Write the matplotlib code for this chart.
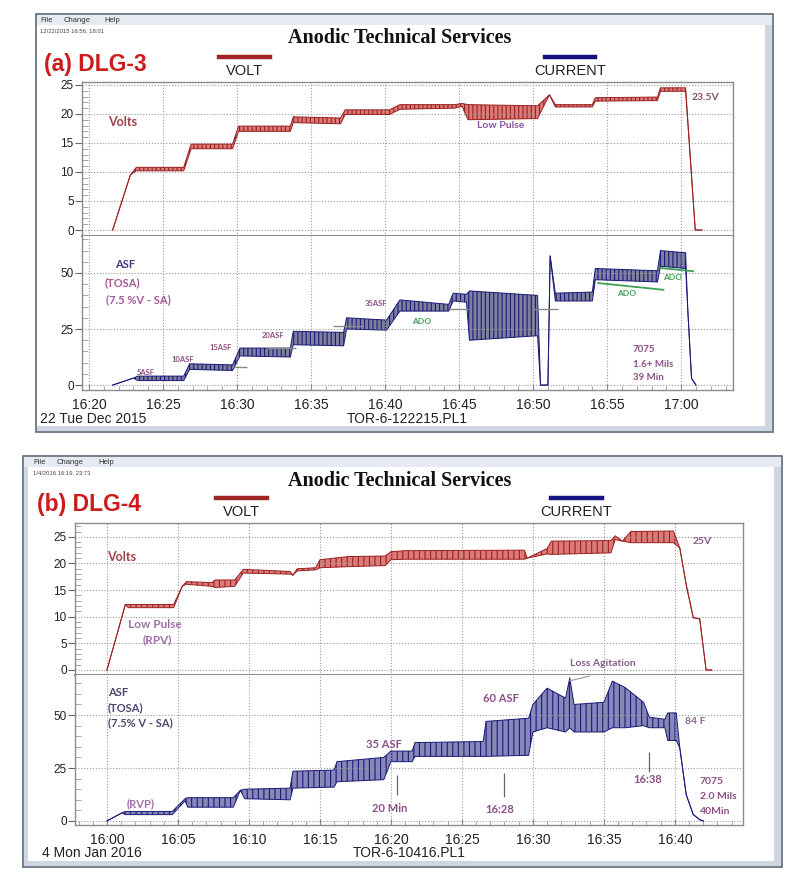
import matplotlib
matplotlib.use("Agg")
import matplotlib.pyplot as plt
from matplotlib.patches import Rectangle
from matplotlib.lines import Line2D
from matplotlib.ticker import MultipleLocator, FuncFormatter

plt.rcParams['font.family'] = ['Liberation Sans', 'DejaVu Sans']
plt.rcParams['hatch.linewidth'] = 0.8

W, H = 800, 872

# ---------------- (a) DLG-3 : minutos despues de las 16:00 ----------------
a_volt_t  = [21.6, 22.8, 23.2, 26.4, 26.9, 29.7, 30.1, 33.6, 33.8, 37.0, 37.3, 40.3, 41.0,
             44.7, 45.2, 45.6, 50.3, 51.1, 51.5, 54.0, 54.2, 58.4, 58.6, 60.3, 60.95, 61.4]
a_volt_lo = [0.0, 9.5, 10.2, 10.2, 14.0, 14.0, 17.0, 17.0, 18.5, 18.3, 19.9, 19.9, 20.8,
             21.0, 21.3, 19.0, 19.2, 23.3, 21.2, 21.2, 22.2, 22.3, 23.9, 23.9, 0.0, 0.0]
a_volt_hi = [0.0, 9.5, 10.8, 10.8, 14.8, 14.8, 17.9, 17.9, 19.5, 19.3, 20.7, 20.7, 21.6,
             21.6, 21.8, 21.6, 21.4, 23.3, 21.6, 21.6, 22.8, 22.9, 24.5, 24.5, 0.0, 0.0]

a_asf_t  = [21.6, 23.0, 23.3, 26.4, 26.8, 29.7, 30.2, 33.6, 33.8, 37.2, 37.4, 40.1, 41.0, 44.3,
            44.6, 45.5, 45.7, 50.3, 50.5, 51.0, 51.15, 51.5, 54.0, 54.2, 58.4, 58.6, 60.3,
            60.45, 60.7, 61.0]
a_asf_lo = [0.0, 3.1, 2.0, 2.0, 7.0, 6.5, 13.0, 12.5, 18.0, 17.5, 25.0, 24.5, 33.0, 33.0,
            37.5, 37.0, 20.0, 22.0, 0.0, 0.0, 57.6, 37.5, 37.5, 47.0, 46.0, 53.0, 52.0,
            33.0, 3.0, 0.0]
a_asf_hi = [0.0, 3.1, 4.0, 4.0, 9.5, 9.0, 16.5, 16.5, 24.0, 23.5, 30.0, 29.0, 38.0, 36.0,
            41.0, 40.5, 42.0, 40.0, 0.0, 0.0, 57.6, 41.0, 41.5, 52.0, 51.0, 60.0, 59.0,
            33.0, 3.0, 0.0]

# lineas de consigna grises
a_ref_t0 = [29.7, 32.0, 36.5, 44.3, 50.0]
a_ref_t1 = [30.7, 34.0, 38.5, 45.6, 51.7]
a_ref_y  = [8.2, 16.4, 26.5, 34.0, 34.0]

# lineas verdes ADO
a_ado_t = [[54.4, 58.8], [58.6, 60.8]]
a_ado_y = [[45.5, 42.5], [52.2, 50.8]]

# ---------------- (b) DLG-4 ----------------
b_volt_t  = [0.0, 1.3, 1.5, 4.7, 5.3, 5.6, 7.4, 7.6, 9.0, 9.6, 12.9, 13.1, 13.4, 14.7, 15.0,
             17.0, 19.6, 20.0, 21.0, 29.4, 29.6, 31.0, 31.3, 35.5, 35.8, 36.3, 36.9, 39.9,
             40.35, 40.8, 41.3, 41.75, 42.2, 42.6]
b_volt_lo = [0.0, 12.3, 11.7, 11.7, 15.7, 16.1, 15.7, 15.5, 15.7, 18.2, 18.0, 17.8, 18.6,
             18.8, 19.2, 19.4, 19.6, 20.7, 20.8, 20.8, 21.0, 21.8, 21.7, 22.0, 24.5, 24.2,
             23.9, 23.9, 22.9, 16.0, 9.8, 9.6, 0.0, 0.0]
b_volt_hi = [0.0, 12.3, 12.3, 12.3, 15.7, 16.6, 16.4, 16.9, 16.9, 18.9, 18.5, 17.8, 19.0,
             19.2, 20.7, 21.3, 21.4, 22.2, 22.4, 22.5, 21.0, 22.8, 24.2, 24.3, 25.2, 24.2,
             26.0, 26.1, 22.9, 16.0, 9.8, 9.6, 0.0, 0.0]

b_asf_t  = [0.0, 1.05, 1.3, 4.6, 5.5, 5.7, 8.9, 9.4, 9.7, 12.9, 13.1, 16.0, 16.2, 19.5, 20.0,
            21.5, 21.7, 26.5, 26.7, 29.7, 30.0, 31.0, 32.3, 32.6, 32.9, 35.0, 35.6, 36.5,
            37.8, 38.2, 39.3, 39.5, 40.1, 40.35, 40.8, 41.3, 41.75, 42.0]
b_asf_lo = [0.0, 3.8, 3.0, 3.0, 9.5, 6.5, 6.5, 14.5, 10.5, 10.0, 15.5, 16.0, 18.5, 19.5,
            28.0, 28.0, 30.5, 30.5, 30.5, 31.0, 42.0, 44.0, 42.0, 44.0, 42.0, 42.0, 44.0,
            44.0, 45.0, 44.0, 44.0, 38.0, 38.0, 34.4, 12.4, 3.0, 0.6, 0.0]
b_asf_hi = [0.0, 3.8, 4.5, 4.5, 10.5, 11.0, 11.0, 14.5, 15.0, 15.5, 23.5, 24.0, 28.0, 30.0,
            33.0, 33.0, 37.0, 37.5, 47.0, 48.5, 55.0, 62.7, 58.0, 67.5, 55.0, 56.0, 66.0,
            63.0, 56.0, 49.0, 48.0, 51.0, 51.0, 34.4, 12.4, 3.0, 0.6, 0.0]

# marcas verticales (tiempo, ASF inicio, ASF fin)
b_marca_t  = [20.4, 27.96, 38.2]
b_marca_y0 = [21.8, 22.6, 32.7]
b_marca_y1 = [12.4, 11.5, 23.3]
b_agit_t = [32.5, 34.0]
b_agit_y = [66.0, 68.4]

ROJO_L, ROJO_F = '#9a2020', '#dc7a78'
AZUL_L, AZUL_F = '#1a1a78', '#8686b8'
MORADO = '#8a4f86'
VERDE = '#3ea055'

fig = plt.figure(figsize=(W / 100, H / 100), dpi=100)


def px(x, y):
    return x / W, 1 - y / H


def txt(x, y, s, **kw):
    kw.setdefault('va', 'center')
    fig.text(x / W, 1 - y / H, s, **kw)


def caja(x0, y0, x1, y1, cara, borde='none', lw=0, z=-2):
    fig.add_artist(Rectangle(px(x0, y1), (x1 - x0) / W, (y1 - y0) / H, facecolor=cara,
                             edgecolor=borde, lw=lw, zorder=z, transform=fig.transFigure))


def hora(m, pos=None):
    m = int(round(m))
    return "%d:%02d" % (16 + m // 60, m % 60)


def ventana(x0, y0, x1, y1, izq):
    caja(x0, y0, x1, y1, 'white', '#5d6878', 1.2, -3)
    caja(x0 + 1, y0 + 1, x1 - 1, y0 + 11, '#e6eaf1', z=-2)
    caja(x1 - 8, y0 + 11, x1 - 1, y1 - 1, '#cdd6e2', z=-2)
    caja(x0 + 1, y1 - 6, x1 - 1, y1 - 1, '#cdd6e2', z=-2)
    if izq:
        caja(x0 + 1, y0 + 11, x0 + 5, y1 - 1, '#cdd6e2', z=-2)


def ejes(izq, der, arriba, medio, abajo, xlim, vlim, alim, xt0, xt1):
    axv = fig.add_axes([izq / W, 1 - medio / H, (der - izq) / W, (medio - arriba) / H])
    axa = fig.add_axes([izq / W, 1 - abajo / H, (der - izq) / W, (abajo - medio) / H])
    for ax in (axv, axa):
        ax.set_xlim(*xlim)
        ax.xaxis.set_major_locator(MultipleLocator(5))
        ax.xaxis.set_minor_locator(MultipleLocator(1))
        ax.grid(True, which='major', color='#9a9a9a', ls=(0, (1, 1.6)), lw=0.8)
        for s in ax.spines.values():
            s.set_color('#8c8c8c')
            s.set_linewidth(1.0)
        ax.tick_params(axis='y', which='major', direction='out', length=5, width=0.8,
                       color='#666666', labelsize=8.5, pad=1, labelcolor='#222222')
        ax.tick_params(axis='y', which='minor', direction='in', length=4, width=0.6,
                       color='#999999')
    axv.set_ylim(*vlim)
    axv.yaxis.set_major_locator(MultipleLocator(5))
    axv.yaxis.set_minor_locator(MultipleLocator(1))
    axv.tick_params(axis='x', which='both', length=0, labelbottom=False)
    axv.spines['bottom'].set_linewidth(1.5)
    axa.set_ylim(*alim)
    axa.set_yticks([0, 25, 50])
    axa.yaxis.set_minor_locator(MultipleLocator(5))
    axa.spines['top'].set_visible(False)
    axa.set_xticks(list(range(xt0, xt1 + 1, 5)))
    axa.xaxis.set_major_formatter(FuncFormatter(hora))
    axa.tick_params(axis='x', which='major', direction='in', length=4, color='#888888',
                    labelsize=10, pad=6, labelcolor='#222222')
    axa.tick_params(axis='x', which='minor', direction='in', length=3, color='#999999')
    return axv, axa


def banda(ax, t, lo, hi, linea, relleno, rayas):
    ax.fill_between(t, lo, hi, facecolor=relleno, edgecolor=linea, hatch=rayas, lw=0)
    ax.plot(t, lo, color=linea, lw=0.7)
    ax.plot(t, hi, color=linea, lw=0.7)


def cabecera(y0, fecha, etiqueta, xm, xv, xc, ypan, ylin, yvt, yt):
    txt(xm[0], y0 + 6, 'File', fontsize=5.5, color='#333333')
    txt(xm[1], y0 + 6, 'Change', fontsize=5.5, color='#333333')
    txt(xm[2], y0 + 6, 'Help', fontsize=5.5, color='#333333')
    txt(xm[0], y0 + 17, fecha, fontsize=4.2, color='#444444')
    txt(400, yt, 'Anodic Technical Services', fontsize=14.5, fontweight='bold',
        family=['Liberation Serif', 'DejaVu Serif'], ha='center', color='#111111')
    txt(ypan[0], ypan[1], etiqueta, fontsize=16.5, fontweight='bold', color='#cc1b1b')
    fig.add_artist(Line2D([xv[0] / W, xv[1] / W], [1 - ylin / H] * 2, color='#a02525', lw=3.2))
    fig.add_artist(Line2D([xc[0] / W, xc[1] / W], [1 - ylin / H] * 2, color='#141480', lw=3.2))
    txt((xv[0] + xv[1]) / 2, yvt, 'VOLT', fontsize=10.5, ha='center', color='#222222')
    txt((xc[0] + xc[1]) / 2, yvt, 'CURRENT', fontsize=10.5, ha='center', color='#222222')


CAL = ['Lato', 'DejaVu Sans']

# ======================= panel (a) =======================
ventana(36, 14, 773, 432, False)
cabecera(14, '12/22/2015 16:56, 18:01', '(a) DLG-3', [40, 64, 104], [219, 270], [545, 595],
         (44, 64), 57, 71, 38)
av, aa = ejes(82, 733, 82, 236, 390, (19.53, 63.5), (-1.03, 25.5), (-2.2, 66.5), 20, 60)
banda(av, a_volt_t, a_volt_lo, a_volt_hi, ROJO_L, ROJO_F, '||||')
banda(aa, a_asf_t, a_asf_lo, a_asf_hi, AZUL_L, '#7e7e9e', '||||')
aa.hlines(a_ref_y, a_ref_t0, a_ref_t1, color='#8a8a8a', lw=1.0)
for tt, yy in zip(a_ado_t, a_ado_y):
    aa.plot(tt, yy, color=VERDE, lw=1.3)

txt(108, 122, 'Volts', fontsize=9, fontweight='bold', color='#a2424c', family=CAL)
txt(477, 125, 'Low Pulse', fontsize=7.5, fontweight='bold', color='#8a55a0', family=CAL)
txt(692, 97, '23.5V', fontsize=7.5, fontweight='bold', color='#8a4f6a', family=CAL)
txt(115, 264, 'ASF', fontsize=8, fontweight='bold', color='#3c3c80', family=CAL)
txt(105, 283, '(TOSA)', fontsize=8, fontweight='bold', color='#a05a9a', family=CAL)
txt(106, 300, '(7.5 %V - SA)', fontsize=8, fontweight='bold', color='#a05a9a', family=CAL)
for xx, yy, s in [(137, 372, '5ASF'), (172, 360, '10ASF'), (210, 348, '15ASF'),
                  (262, 335, '20ASF'), (365, 303, '35ASF')]:
    txt(xx, yy, s, fontsize=5.5, fontweight='bold', color=MORADO, family=CAL)
for xx, yy in [(412, 321), (617, 293), (663, 277)]:
    txt(xx, yy, 'ADO', fontsize=6, fontweight='bold', color=VERDE, family=CAL)
txt(633, 350, '7075', fontsize=7, fontweight='bold', color=MORADO, family=CAL)
txt(633, 364, '1.6+ Mils', fontsize=7, fontweight='bold', color=MORADO, family=CAL)
txt(633, 377, '39 Min', fontsize=7, fontweight='bold', color=MORADO, family=CAL)
txt(40, 419, '22 Tue Dec 2015', fontsize=10, color='#222222')
txt(407, 419, 'TOR-6-122215.PL1', fontsize=10, ha='center', color='#222222')

# ======================= panel (b) =======================
ventana(23, 456, 782, 867, True)
cabecera(456, '1/4/2016 16:19, 23:73', '(b) DLG-4', [33, 57, 98], [216, 267], [551, 602],
         (37, 504), 498, 512, 481)
bv, ba = ejes(75, 743, 523, 675, 825, (-2.25, 44.8), (-0.94, 27.6), (-1.9, 68.9), 0, 40)
banda(bv, b_volt_t, b_volt_lo, b_volt_hi, ROJO_L, ROJO_F, '|||')
banda(ba, b_asf_t, b_asf_lo, b_asf_hi, AZUL_L, AZUL_F, '|||')
ba.vlines(b_marca_t, b_marca_y1, b_marca_y0, color='#666666', lw=0.9)
ba.plot(b_agit_t, b_agit_y, color='#999999', lw=0.8)

txt(107, 557, 'Volts', fontsize=9, fontweight='bold', color='#a2424c', family=CAL)
txt(128, 624, 'Low Pulse', fontsize=8.5, fontweight='bold', color='#a070aa', family=CAL)
txt(143, 640, '(RPV)', fontsize=8.5, fontweight='bold', color='#a070aa', family=CAL)
txt(693, 542, '25V', fontsize=7.5, fontweight='bold', color='#8a5a8a', family=CAL)
txt(570, 663, 'Loss Agitation', fontsize=7.5, fontweight='bold', color='#8a5a8a', family=CAL)
txt(108, 692, 'ASF', fontsize=8, fontweight='bold', color='#4a4a6e', family=CAL)
txt(108, 708, '(TOSA)', fontsize=8, fontweight='bold', color='#4a4a6e', family=CAL)
txt(108, 723, '(7.5% V - SA)', fontsize=8, fontweight='bold', color='#4a4a6e', family=CAL)
txt(127, 804, '(RVP)', fontsize=8, fontweight='bold', color='#a070aa', family=CAL)
txt(366, 745, '35 ASF', fontsize=8, fontweight='bold', color=MORADO, family=CAL)
txt(372, 808, '20 Min', fontsize=8, fontweight='bold', color=MORADO, family=CAL)
txt(483, 698, '60 ASF', fontsize=8, fontweight='bold', color=MORADO, family=CAL)
txt(485, 809, '16:28', fontsize=8, fontweight='bold', color=MORADO, family=CAL)
txt(633, 779, '16:38', fontsize=8, fontweight='bold', color=MORADO, family=CAL)
txt(685, 721, '84 F', fontsize=7.5, fontweight='bold', color='#8a6a8a', family=CAL)
txt(700, 781, '7075', fontsize=7.5, fontweight='bold', color=MORADO, family=CAL)
txt(700, 796, '2.0 Mils', fontsize=7.5, fontweight='bold', color=MORADO, family=CAL)
txt(700, 811, '40Min', fontsize=7.5, fontweight='bold', color=MORADO, family=CAL)
txt(42, 853, '4 Mon Jan 2016', fontsize=10, color='#222222')
txt(409, 853, 'TOR-6-10416.PL1', fontsize=10, ha='center', color='#222222')

plt.savefig("out.png", dpi=100)
